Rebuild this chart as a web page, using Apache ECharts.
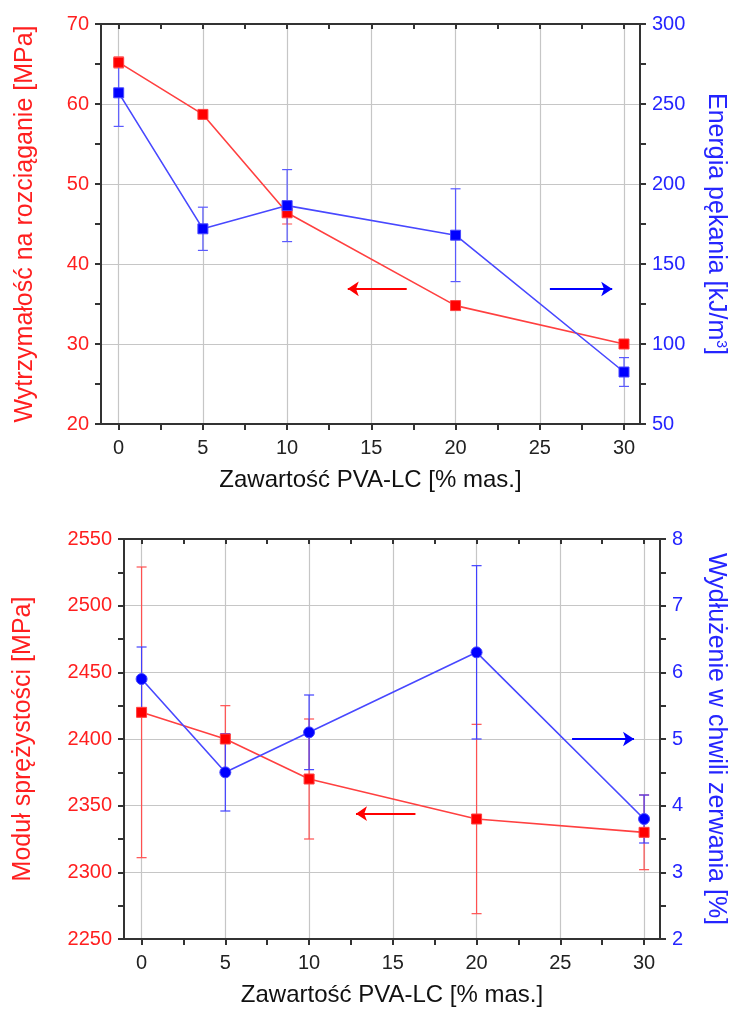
<!DOCTYPE html>
<html>
<head>
<meta charset="utf-8">
<script src="https://cdn.jsdelivr.net/npm/echarts@6/dist/echarts.min.js"></script>
<style>
  html, body { margin: 0; padding: 0; background: #fff; }
  #chart { width: 736px; height: 1010px; }
</style>
</head>
<body>
<div id="chart"></div>
<script>
// dane
const pvaContent = [0, 5, 10, 20, 30];
const xTicks = [0, 5, 10, 15, 20, 25, 30];
const xMinorTicks = [0, 2.5, 5, 7.5, 10, 12.5, 15, 17.5, 20, 22.5, 25, 27.5, 30];

const tensileStrength = [65.2, 58.7, 46.4, 34.8, 30.0];
const tensileStrengthErr = [0.7, 0, 1.4, 0, 0];
const fractureEnergy = [257, 172, 186.5, 168, 82.5];
const fractureEnergyErr = [21, 13.5, 22.5, 29, 9];

const modulus = [2420, 2400, 2370, 2340, 2330];
const modulusErr = [109, 25, 45, 71, 28];
const elongation = [5.9, 4.5, 5.1, 6.3, 3.8];
const elongationErr = [0.48, 0.58, 0.56, 1.3, 0.36];

// strzalki (wspolrzedne w jednostkach osi)
const arrowTopRed = [[17.1, 36.9], [13.6, 36.9]];
const arrowTopBlue = [[25.6, 134.4], [29.3, 134.4]];
const arrowBottomRed = [[16.35, 2344], [12.8, 2344]];
const arrowBottomBlue = [[25.7, 5.0], [29.4, 5.0]];

const RED = '#ff1f1f';
const BLUE = '#2525ff';
const FONT = 'Liberation Sans, Arial, sans-serif';
const X_MIN = -1.05, X_MAX = 30.95;
const axisLineStyle = { color: '#333', width: 2 };
const gridLineStyle = { color: '#c6c6c6', width: 1.2 };

const pairs = (xs, ys) => xs.map((x, i) => [x, ys[i]]);
const triples = (xs, ys, es) => xs.map((x, i) => [x, ys[i], es[i]]);
const plain = v => String(v);

function xAxes(gridIndex) {
  const common = { type: 'value', gridIndex: gridIndex, min: X_MIN, max: X_MAX };
  return [
    Object.assign({}, common, {
      position: 'bottom',
      name: 'Zawartość PVA-LC [% mas.]',
      nameLocation: 'middle',
      nameGap: 44,
      nameTextStyle: { fontSize: 24, color: '#111', fontFamily: FONT },
      axisLine: { onZero: false, lineStyle: axisLineStyle },
      axisTick: { customValues: xMinorTicks, length: 6, lineStyle: axisLineStyle },
      axisLabel: { customValues: xTicks, fontSize: 20, color: '#222', margin: 14, fontFamily: FONT, formatter: plain },
      splitLine: { show: false }
    }),
    Object.assign({}, common, {
      position: 'top',
      axisLine: { onZero: false, lineStyle: axisLineStyle },
      axisTick: { customValues: xMinorTicks, inside: true, length: 5, lineStyle: axisLineStyle },
      axisLabel: { show: false },
      splitLine: { show: false }
    }),
    Object.assign({}, common, {
      position: 'bottom',
      axisLine: { show: false },
      axisTick: { show: false, customValues: xTicks },
      axisLabel: { show: false },
      splitLine: { show: true, lineStyle: gridLineStyle }
    })
  ];
}

function yAxis(gridIndex, pos, min, max, interval, color, name, nameGap, rotate, grid, rich) {
  return {
    type: 'value', gridIndex: gridIndex, position: pos,
    min: min, max: max, interval: interval,
    name: name, nameLocation: 'middle', nameGap: nameGap, nameRotate: rotate,
    nameTextStyle: { fontSize: 25, color: color, fontFamily: FONT, rich: rich },
    axisLine: { show: true, onZero: false, lineStyle: axisLineStyle },
    axisTick: { length: 6, lineStyle: axisLineStyle },
    minorTick: { show: true, splitNumber: 2, length: 6, lineStyle: axisLineStyle },
    axisLabel: { fontSize: 20, color: color, margin: 12, fontFamily: FONT, formatter: plain },
    splitLine: { show: grid, lineStyle: gridLineStyle }
  };
}

function errorBars(color) {
  return function (params, api) {
    const x = api.value(0), y = api.value(1), e = api.value(2);
    if (!e) return null;
    const hi = api.coord([x, y + e]);
    const lo = api.coord([x, y - e]);
    const w = 5;
    const style = { stroke: color, lineWidth: 1.2 };
    return {
      type: 'group',
      children: [
        { type: 'line', shape: { x1: hi[0], y1: hi[1], x2: lo[0], y2: lo[1] }, style: style },
        { type: 'line', shape: { x1: hi[0] - w, y1: hi[1], x2: hi[0] + w, y2: hi[1] }, style: style },
        { type: 'line', shape: { x1: lo[0] - w, y1: lo[1], x2: lo[0] + w, y2: lo[1] }, style: style }
      ]
    };
  };
}

function arrow(points, color) {
  return {
    silent: true,
    animation: false,
    symbol: ['none', 'arrow'],
    symbolSize: 11,
    label: { show: false },
    lineStyle: { color: color, width: 2, type: 'solid' },
    emphasis: { disabled: true },
    data: [[{ coord: points[0] }, { coord: points[1] }]]
  };
}

function lineSeries(xi, yi, data, color, lineColor, symbol, arrowPts) {
  return {
    type: 'line', xAxisIndex: xi, yAxisIndex: yi, data: data,
    symbol: symbol, symbolSize: symbol === 'circle' ? 11 : 10,
    itemStyle: { color: color, borderColor: lineColor, borderWidth: 1 },
    lineStyle: { color: lineColor, width: 1.6 },
    z: 5,
    markLine: arrow(arrowPts, color)
  };
}

function errSeries(xi, yi, data, color) {
  return {
    type: 'custom', xAxisIndex: xi, yAxisIndex: yi, data: data,
    renderItem: errorBars(color), z: 3, silent: true
  };
}

const chart = echarts.init(document.getElementById('chart'));

chart.setOption({
  animation: false,
  backgroundColor: '#fff',
  textStyle: { fontFamily: FONT },
  grid: [
    { left: 101, top: 24, width: 544, height: 400 },
    { left: 124, top: 539, width: 544, height: 400 }
  ],
  xAxis: xAxes(0).concat(xAxes(1)),
  yAxis: [
    yAxis(0, 'left', 20, 70, 10, RED, 'Wytrzymałość na rozciąganie [MPa]', 63, 90, true),
    yAxis(0, 'right', 50, 300, 50, BLUE, '{a|Energia pękania [kJ/m}{s|3}{a|]}', 63, -90, false,
      { a: { fontSize: 25, color: BLUE, fontFamily: FONT }, s: { fontSize: 14, color: BLUE, fontFamily: FONT, verticalAlign: 'top', lineHeight: 14 } }),
    yAxis(1, 'left', 2250, 2550, 50, RED, 'Moduł sprężystości [MPa]', 88, 90, true),
    yAxis(1, 'right', 2, 8, 1, BLUE, 'Wydłużenie w chwili zerwania [%]', 43, -90, false)
  ],
  series: [
    errSeries(0, 0, triples(pvaContent, tensileStrength, tensileStrengthErr), '#ff6a6a'),
    errSeries(0, 1, triples(pvaContent, fractureEnergy, fractureEnergyErr), '#5a5aff'),
    lineSeries(0, 0, pairs(pvaContent, tensileStrength), '#ff0000', '#ff4040', 'rect', arrowTopRed),
    lineSeries(0, 1, pairs(pvaContent, fractureEnergy), '#0000ff', '#4848ff', 'rect', arrowTopBlue),

    errSeries(3, 2, triples(pvaContent, modulus, modulusErr), '#ff5050'),
    errSeries(3, 3, triples(pvaContent, elongation, elongationErr), '#4040ff'),
    lineSeries(3, 2, pairs(pvaContent, modulus), '#ff0000', '#ff4040', 'rect', arrowBottomRed),
    lineSeries(3, 3, pairs(pvaContent, elongation), '#0000ff', '#4848ff', 'circle', arrowBottomBlue)
  ]
});
</script>
</body>
</html>
